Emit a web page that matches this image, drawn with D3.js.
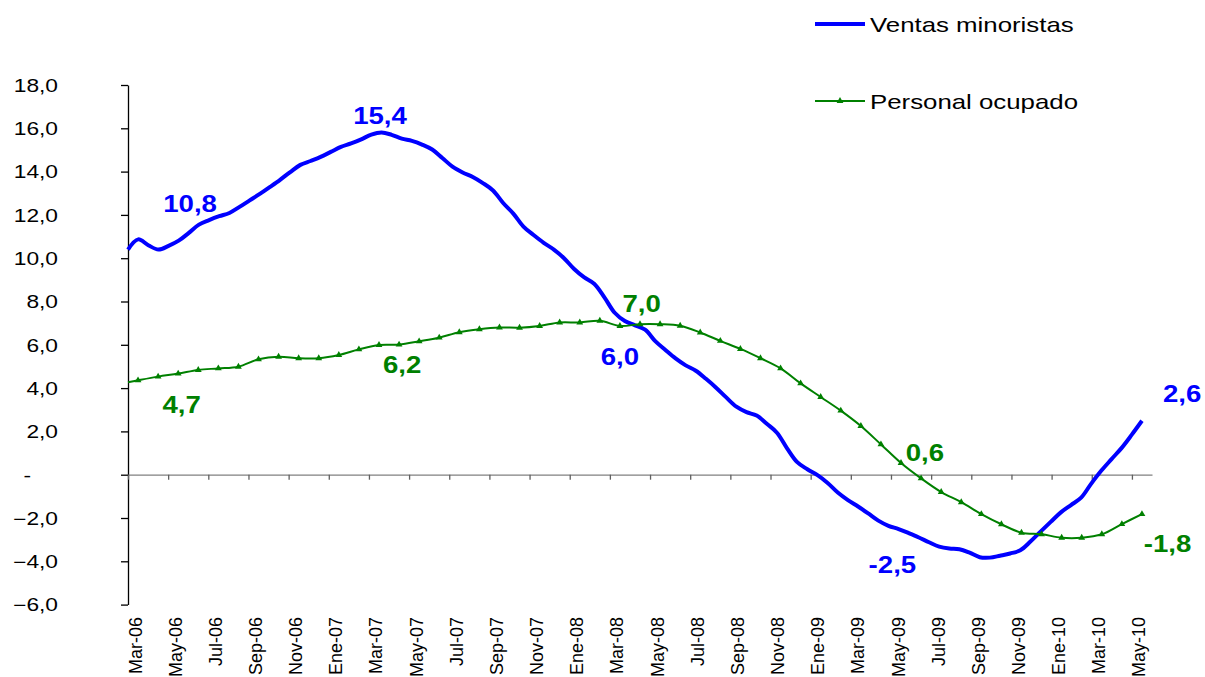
<!DOCTYPE html>
<html>
<head>
<meta charset="utf-8">
<script src="https://cdn.jsdelivr.net/npm/d3@7"></script>
<style>
body{margin:0;background:#fff;}
svg{display:block;font-family:"Liberation Sans",Arial,sans-serif;}
</style>
</head>
<body>
<svg></svg>
<script>

//months of the category axis (Mar-06 .. May-10)
var months = ["Mar-06","Abr-06","May-06","Jun-06","Jul-06","Ago-06","Sep-06","Oct-06","Nov-06","Dic-06",
              "Ene-07","Feb-07","Mar-07","Abr-07","May-07","Jun-07","Jul-07","Ago-07","Sep-07","Oct-07","Nov-07","Dic-07",
              "Ene-08","Feb-08","Mar-08","Abr-08","May-08","Jun-08","Jul-08","Ago-08","Sep-08","Oct-08","Nov-08","Dic-08",
              "Ene-09","Feb-09","Mar-09","Abr-09","May-09","Jun-09","Jul-09","Ago-09","Sep-09","Oct-09","Nov-09","Dic-09",
              "Ene-10","Feb-10","Mar-10","Abr-10","May-10"];

//Ventas minoristas, read every half month
var ventas = [10.4, 10.87, 10.6, 10.4, 10.57, 10.81, 11.17, 11.55, 11.76, 11.94,
              12.09, 12.37, 12.67, 12.97, 13.29, 13.62, 13.98, 14.31, 14.49, 14.68,
              14.91, 15.14, 15.30, 15.49, 15.71, 15.81, 15.70, 15.52, 15.42, 15.25,
              15.02, 14.63, 14.23, 13.96, 13.75, 13.47, 13.13, 12.55, 12.06, 11.46,
              11.07, 10.71, 10.40, 10.0, 9.50, 9.11, 8.81, 8.18, 7.48, 7.10,
              6.90, 6.70, 6.17, 5.76, 5.37, 5.05, 4.80, 4.43, 4.02, 3.57,
              3.14, 2.89, 2.73, 2.35, 1.94, 1.22, 0.58, 0.25, -0.02, -0.38,
              -0.82, -1.17, -1.47, -1.79, -2.12, -2.36, -2.51, -2.70, -2.90, -3.12,
              -3.32, -3.41, -3.44, -3.60, -3.81, -3.83, -3.74, -3.64, -3.49, -3.09,
              -2.63, -2.18, -1.74, -1.40, -1.06, -0.41, 0.19, 0.72, 1.24, 1.85,
              2.49];

//Personal ocupado, one value per month
var personal = [4.36, 4.53, 4.67, 4.84, 4.91, 4.99, 5.33, 5.45, 5.38, 5.38,
                5.53, 5.79, 5.99, 6.01, 6.16, 6.33, 6.58, 6.72, 6.80, 6.79,
                6.87, 7.03, 7.03, 7.11, 6.87, 6.95, 6.95, 6.88, 6.57, 6.18,
                5.81, 5.38, 4.91, 4.22, 3.59, 2.96, 2.25, 1.40, 0.54, -0.17,
                -0.80, -1.27, -1.82, -2.29, -2.68, -2.75, -2.91, -2.91, -2.75, -2.28,
                -1.82];
//value where the green line meets the axis
var personalInicio = 4.27;

var yTicks = [18,16,14,12,10,8,6,4,2,0,-2,-4,-6];

var seriesNames = ["Ventas minoristas","Personal ocupado"];

//data labels: month index and value where the text sits
var labels = [
    {text:"10,8", serie:0, month:2.59, value:12.15},
    {text:"15,4", serie:0, month:12.05, value:16.22},
    {text:"6,0",  serie:0, month:24.0, value:5.07},
    {text:"-2,5", serie:0, month:37.57, value:-4.55},
    {text:"2,6",  serie:0, month:52.0, value:3.37},
    {text:"4,7",  serie:1, month:2.17, value:2.86},
    {text:"6,2",  serie:1, month:13.15, value:4.71},
    {text:"7,0",  serie:1, month:25.08, value:7.53},
    {text:"0,6",  serie:1, month:39.19, value:0.65},
    {text:"-1,8", serie:1, month:51.27, value:-3.56}
];

var colors = ["#0000ff","#008000"];

var screen = {width:1205,height:677};
var plot = {left:128,right:1152,top:85,bottom:604.6};

var svg = d3.select("svg")
    .attr("width",screen.width)
    .attr("height",screen.height);

//scales
var xBand = d3.scaleBand()
    .domain(months)
    .range([plot.left,plot.right]);

var bw = xBand.bandwidth();

var xMonth = d3.scaleLinear()
    .domain([0,months.length-1])
    .range([xBand(months[0])+bw/2, xBand(months[months.length-1])+bw/2]);

var xVentas = d3.scaleLinear()
    .domain([0,ventas.length-1])
    .range([plot.left, xMonth(months.length-1)]);

var xEdge = d3.scaleLinear()
    .domain([0,months.length])
    .range([plot.left,plot.right]);

var yScale = d3.scaleLinear()
    .domain([-6,18])
    .range([plot.bottom,plot.top]);

var fmt = function(d)
{
    return d3.format(".1f")(d).replace(".",",");
}

//y axis
var yAxis = d3.axisLeft(yScale)
    .tickValues(yTicks)
    .tickSize(7)
    .tickSizeOuter(0)
    .tickFormat(function(d){return d===0 ? "-" : fmt(d);});

var yG = svg.append("g")
    .attr("transform","translate("+plot.left+",0)")
    .call(yAxis);

yG.select(".domain").attr("stroke","#000").attr("stroke-width",1.3);
yG.selectAll(".tick line").attr("stroke","#000").attr("stroke-width",1.3);
yG.selectAll(".tick text")
    .attr("x",0)
    .attr("dy","0.36em")
    .attr("fill","#000")
    .style("font-size","17.5px")
    .attr("transform",function(d){return "translate("+(d===0 ? -97 : -70)+",0) scale(1.3,1)";});

//x axis on the zero line, ticks every two months
var xAxis = d3.axisBottom(xEdge)
    .tickValues(d3.range(0,months.length,2))
    .tickSize(5)
    .tickSizeOuter(0)
    .tickFormat("");

var xG = svg.append("g")
    .attr("transform","translate(0,"+yScale(0)+")")
    .call(xAxis);

xG.select(".domain").attr("stroke","#808080").attr("stroke-width",1.3);
xG.selectAll(".tick line").attr("stroke","#606060").attr("stroke-width",1.3);

//month labels at the bottom
svg.append("g")
    .selectAll("text")
    .data(months.filter(function(m,i){return i%2===0;}))
    .enter()
    .append("text")
    .text(function(m){return m;})
    .attr("text-anchor","end")
    .style("font-size","18px")
    .attr("fill","#000")
    .attr("transform",function(m){
        return "translate("+(xBand(m)+bw/2+3.5)+",617) rotate(-90)";
    });

//lines
var ventasLine = d3.line()
    .x(function(d,i){return xVentas(i);})
    .y(function(d){return yScale(d);})
    .curve(d3.curveCatmullRom.alpha(0.5));

var personalPts = [{i:-0.5,v:personalInicio}].concat(personal.map(function(v,i){return {i:i,v:v};}));

var personalLine = d3.line()
    .x(function(d){return xMonth(d.i);})
    .y(function(d){return yScale(d.v);})
    .curve(d3.curveCatmullRom.alpha(0.5));

svg.append("path")
    .datum(ventas)
    .attr("d",ventasLine)
    .attr("fill","none")
    .attr("stroke",colors[0])
    .attr("stroke-width",4)
    .attr("stroke-linejoin","round");

svg.append("path")
    .datum(personalPts)
    .attr("d",personalLine)
    .attr("fill","none")
    .attr("stroke",colors[1])
    .attr("stroke-width",2);

var tri = d3.symbol().type(d3.symbolTriangle).size(20);

svg.append("g")
    .selectAll("path")
    .data(personal)
    .enter()
    .append("path")
    .attr("d",tri)
    .attr("fill",colors[1])
    .attr("transform",function(v,i){return "translate("+xMonth(i)+","+yScale(v)+")";});

//data labels
svg.append("g")
    .selectAll("text")
    .data(labels)
    .enter()
    .append("text")
    .text(function(l){return l.text;})
    .attr("text-anchor","middle")
    .style("font-size","23px")
    .style("font-weight","bold")
    .attr("fill",function(l){return colors[l.serie];})
    .attr("transform",function(l){
        return "translate("+xMonth(l.month)+","+yScale(l.value)+") scale(1.2,1)";
    });

//legend
var legend = svg.append("g")
    .attr("transform","translate(815,0)");

var entries = legend.selectAll("g")
    .data(seriesNames)
    .enter()
    .append("g")
    .attr("transform",function(n,i){return "translate(0,"+(24+i*77)+")";});

entries.append("line")
    .attr("x1",0)
    .attr("x2",50)
    .attr("stroke",function(n,i){return colors[i];})
    .attr("stroke-width",function(n,i){return i===0 ? 4 : 2;});

entries.filter(function(n,i){return i===1;})
    .append("path")
    .attr("d",tri)
    .attr("fill",colors[1])
    .attr("transform","translate(25,0)");

entries.append("text")
    .text(function(n){return n;})
    .style("font-size","21px")
    .attr("fill","#000")
    .attr("transform","translate(55,7.5) scale(1.23,1)");

</script>
</body>
</html>
